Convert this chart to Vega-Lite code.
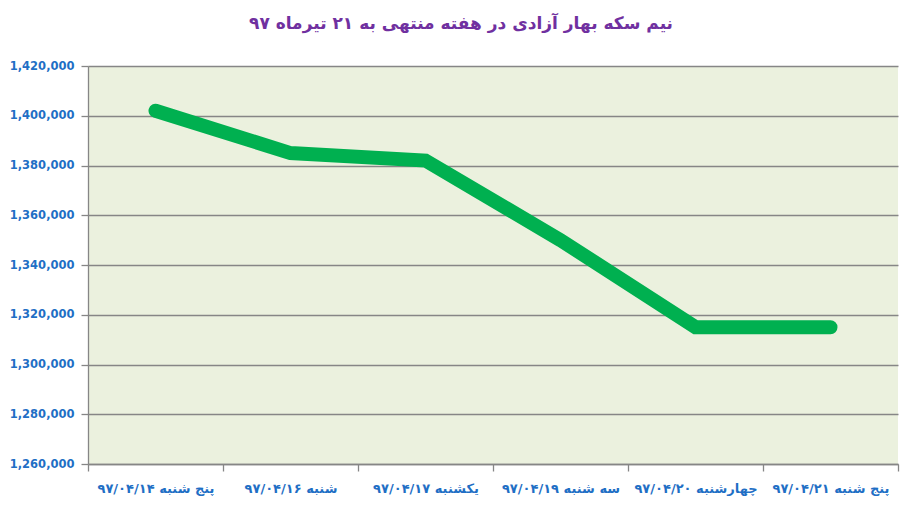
{
  "$schema": "https://vega.github.io/schema/vega-lite/v6.json",
  "width": 810,
  "height": 398,
  "autosize": {"type": "none"},
  "padding": {"left": 88, "top": 66, "right": 16, "bottom": 50},
  "background": "white",
  "title": {
    "text": "نیم سکه بهار آزادی در هفته منتهی به ۲۱ تیرماه ۹۷",
    "font": "DejaVu Sans",
    "fontSize": 17,
    "fontWeight": "bold",
    "color": "#7030A0",
    "anchor": "middle",
    "dx": -32,
    "offset": 27
  },
  "config": {
    "view": {"fill": "#EBF1DE", "stroke": null}
  },
  "data": {
    "values": [
      {"day": "پنج شنبه ۹۷/۰۴/۱۴", "price": 1402000},
      {"day": "شنبه ۹۷/۰۴/۱۶", "price": 1385000},
      {"day": "یکشنبه ۹۷/۰۴/۱۷", "price": 1382000},
      {"day": "سه شنبه ۹۷/۰۴/۱۹", "price": 1350000},
      {"day": "چهارشنبه ۹۷/۰۴/۲۰", "price": 1315000},
      {"day": "پنج شنبه ۹۷/۰۴/۲۱", "price": 1315000}
    ]
  },
  "mark": {
    "type": "line",
    "color": "#00B050",
    "strokeWidth": 14,
    "strokeCap": "round",
    "strokeJoin": "miter"
  },
  "encoding": {
    "x": {
      "field": "day",
      "type": "nominal",
      "sort": null,
      "scale": {"type": "band", "paddingInner": 0, "paddingOuter": 0},
      "axis": {
        "title": null,
        "labelAngle": 0,
        "tickBand": "extent",
        "grid": false,
        "domainColor": "#868686",
        "domainWidth": 1.3,
        "tickColor": "#868686",
        "tickWidth": 1.3,
        "tickSize": 7,
        "labelPadding": 11,
        "labelFont": "DejaVu Sans",
        "labelFontSize": 13,
        "labelFontWeight": "bold",
        "labelColor": "#1F6FC5"
      }
    },
    "y": {
      "field": "price",
      "type": "quantitative",
      "scale": {"domain": [1260000, 1420000], "nice": false, "zero": false},
      "axis": {
        "title": null,
        "values": [1260000, 1280000, 1300000, 1320000, 1340000, 1360000, 1380000, 1400000, 1420000],
        "format": ",d",
        "grid": true,
        "gridColor": "#868686",
        "gridWidth": 1.3,
        "domainColor": "#868686",
        "domainWidth": 1.3,
        "tickColor": "#868686",
        "tickWidth": 1.3,
        "tickSize": 7,
        "labelPadding": 7,
        "labelFont": "DejaVu Sans",
        "labelFontSize": 11.5,
        "labelFontWeight": "bold",
        "labelColor": "#1F6FC5"
      }
    }
  }
}
